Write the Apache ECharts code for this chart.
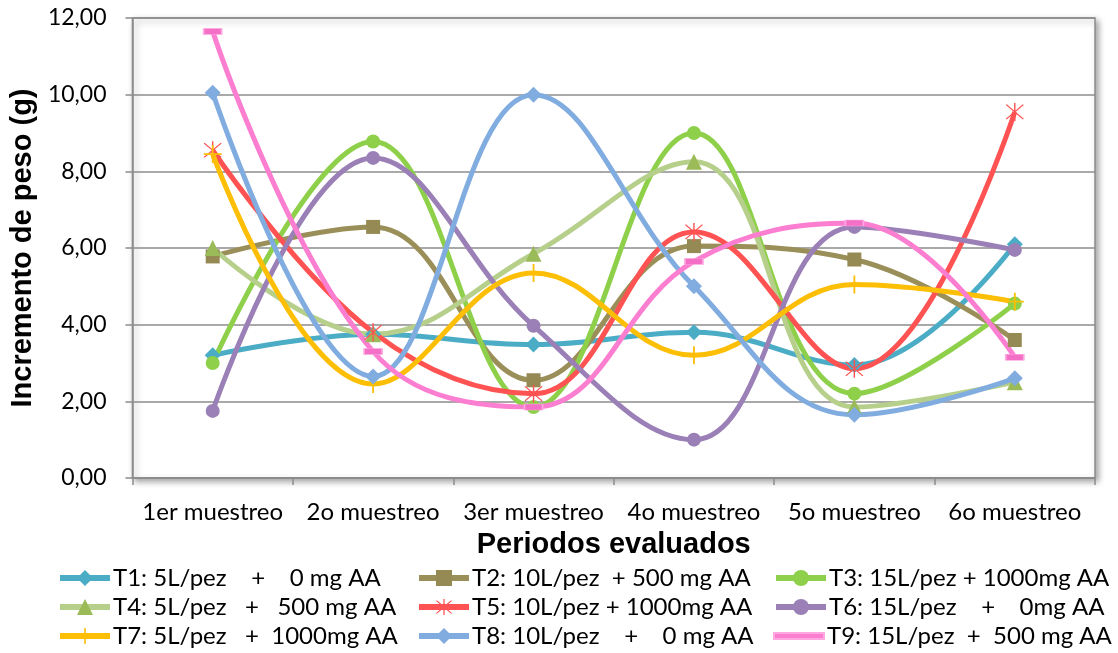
<!DOCTYPE html>
<html>
<head>
<meta charset="utf-8">
<script src="https://cdn.jsdelivr.net/npm/echarts@6/dist/echarts.min.js"></script>
<style>html,body{margin:0;padding:0;background:#fff;}#c{width:1118px;height:653px;}</style>
</head>
<body>
<div id="c"></div>
<script>
const categories = ['1er muestreo','2o muestreo','3er muestreo','4o muestreo','5o muestreo','6o muestreo'];
const seriesNames = [
  'T1: 5L/pez    +    0 mg AA',
  'T2: 10L/pez  + 500 mg AA',
  'T3: 15L/pez + 1000mg AA',
  'T4: 5L/pez   +   500 mg AA',
  'T5: 10L/pez + 1000mg AA',
  'T6: 15L/pez    +    0mg AA',
  'T7: 5L/pez   +  1000mg AA',
  'T8: 10L/pez    +    0 mg AA',
  'T9: 15L/pez  +  500 mg AA'
];
const t1 = [3.20, 3.75, 3.48, 3.80, 2.95, 6.10];
const t2 = [5.78, 6.55, 2.55, 6.05, 5.70, 3.60];
const t3 = [3.00, 8.78, 1.85, 9.00, 2.20, 4.55];
const t4 = [6.00, 3.75, 5.85, 8.25, 1.85, 2.50];
const t5 = [8.55, 3.80, 2.20, 6.42, 2.85, 9.55];
const t6 = [1.75, 8.35, 3.97, 1.00, 6.55, 5.95];
const t7 = [8.45, 2.45, 5.35, 3.20, 5.05, 4.60];
const t8 = [10.05, 2.65, 10.00, 5.00, 1.65, 2.60];
const t9 = [11.65, 3.30, 1.85, 5.65, 6.65, 3.15];
const yTicks = [0, 2, 4, 6, 8, 10, 12];

const starPath = 'path://M-0.6,-9 L0.6,-9 L0.6,9 L-0.6,9 Z M-7.6,-6.8 L-6.8,-7.6 L7.6,6.8 L6.8,7.6 Z M6.8,-7.6 L7.6,-6.8 L-6.8,7.6 L-7.6,6.8 Z';
const plusPath = 'path://M-0.8,-9 L0.8,-9 L0.8,9 L-0.8,9 Z M-8,-0.8 L8,-0.8 L8,0.8 L-8,0.8 Z';

const styles = [
  {line:'#4BACC6', mark:'#4BACC6', symbol:'diamond', size:16},
  {line:'#9A8F58', mark:'#958A54', symbol:'rect', size:14},
  {line:'#8ED04A', mark:'#8ED04A', symbol:'circle', size:14},
  {line:'#B6D08C', mark:'#9BBB59', symbol:'triangle', size:16},
  {line:'#FF5252', mark:'#FF5252', symbol:starPath, size:18},
  {line:'#9A80B6', mark:'#9A80B6', symbol:'circle', size:14},
  {line:'#FDBE06', mark:'#FDBE06', symbol:plusPath, size:18},
  {line:'#80ACE0', mark:'#80ACE0', symbol:'diamond', size:16},
  {line:'#FB7ED0', mark:'#F470C6', symbol:'rect', size:[18,6]}
];
const values = [t1,t2,t3,t4,t5,t6,t7,t8,t9];

const series = values.map((d,i)=>({
  name: seriesNames[i],
  type: 'line',
  data: d,
  smooth: 0.4,
  symbol: styles[i].symbol,
  symbolSize: styles[i].size,
  showAllSymbol: true,
  lineStyle: {color: styles[i].line, width: 5},
  itemStyle: i===8 ? {color: styles[i].mark, borderColor:'#FFA8E2', borderWidth:1} : {color: styles[i].mark},
  emphasis: {disabled: true},
  animation: false
}));

const font = 'Lato, "Open Sans", sans-serif';
const colLeft = [57, 416, 773];
const rowCenter = [578, 607, 636];
const legends = seriesNames.map((n,i)=>{
  const isT9 = i === 8;
  return {
    orient: 'horizontal',
    left: colLeft[i%3],
    top: rowCenter[Math.floor(i/3)] - 12,
    padding: 0,
    itemWidth: 50, itemHeight: isT9 ? 6 : 20,
    itemGap: 0,
    data: isT9 ? [{name: n, icon: 'rect', itemStyle: {color: '#FB7ED0'}}] : [n],
    lineStyle: {width: 6},
    textStyle: {fontFamily: font, fontSize: 24, lineHeight: 24, color: '#000', padding:[0,0,0,-2]},
    selectedMode: false
  };
});

const chart = echarts.init(document.getElementById('c'), null, {renderer:'canvas'});
chart.setOption({
  animation: false,
  backgroundColor: '#fff',
  grid: {
    left: 131, right: 23, top: 18, bottom: 175,
    show: true, backgroundColor: '#fff', borderColor: '#8C8C8C', borderWidth: 1.5,
    shadowBlur: 6, shadowColor: 'rgba(0,0,0,0.35)', shadowOffsetX: 3, shadowOffsetY: 3
  },
  legend: legends,
  xAxis: {
    type: 'category',
    data: categories,
    boundaryGap: true,
    axisLine: {lineStyle: {color: '#8C8C8C', width: 1.5}},
    axisTick: {show: true, length: 7, lineStyle: {color: '#8C8C8C', width: 1.5}},
    axisLabel: {fontFamily: font, fontSize: 24, color: '#000', margin: 22, interval: 0, hideOverlap: false},
    name: 'Periodos evaluados',
    nameLocation: 'middle',
    nameGap: 52,
    nameTextStyle: {fontFamily: '"Liberation Sans", Arial, sans-serif', fontWeight: 'bold', fontSize: 29, color: '#000'}
  },
  yAxis: {
    type: 'value',
    min: yTicks[0], max: yTicks[yTicks.length-1], interval: 2,
    axisLine: {show: true, lineStyle: {color: '#8C8C8C', width: 1.5}},
    axisTick: {show: true, length: 7, lineStyle: {color: '#8C8C8C', width: 1.5}},
    splitLine: {lineStyle: {color: '#8C8C8C', width: 1.5}},
    axisLabel: {fontFamily: font, fontSize: 23, color: '#000', margin: 26,
      formatter: v => v.toFixed(2).replace('.', ',')},
    name: 'Incremento de peso (g)',
    nameLocation: 'middle',
    nameGap: 94,
    nameTextStyle: {fontFamily: '"Liberation Sans", Arial, sans-serif', fontWeight: 'bold', fontSize: 29, color: '#000'}
  },
  series: series
});
</script>
</body>
</html>
